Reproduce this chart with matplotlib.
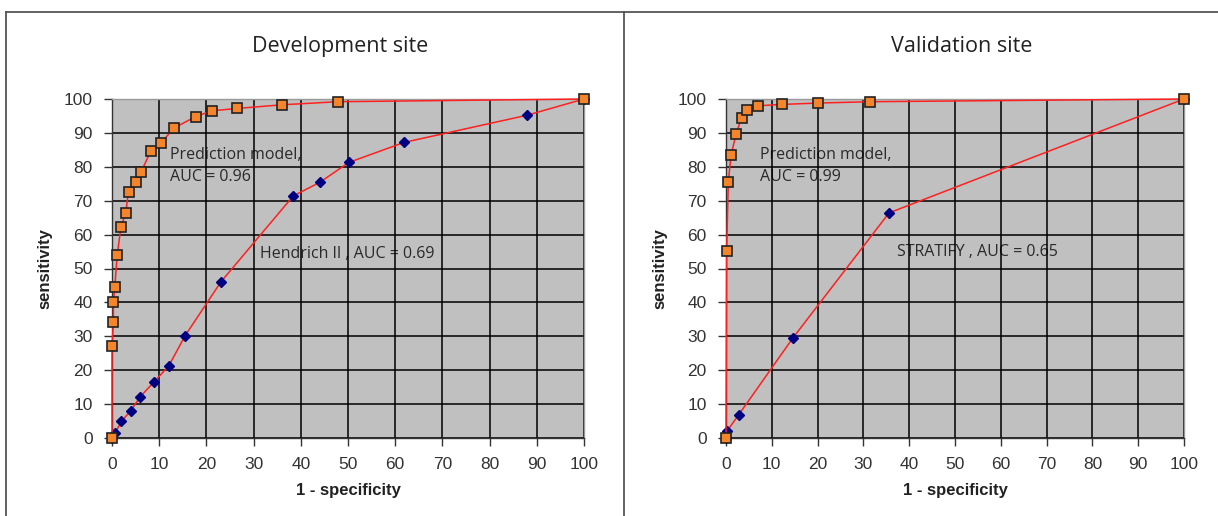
import matplotlib
matplotlib.use("Agg")
import matplotlib.pyplot as plt
from matplotlib.lines import Line2D

# ---------------- data ----------------
dev_model_x = [0, 0, 0.3, 0.3, 0.6, 1.1, 1.9, 2.9, 3.5, 5.0, 6.2, 8.2, 10.3, 13.1, 17.7, 21.1, 26.4, 36.1, 47.9, 100]
dev_model_y = [0, 27.1, 34.3, 40.2, 44.6, 54.0, 62.3, 66.4, 72.7, 75.4, 78.6, 84.6, 86.9, 91.4, 94.8, 96.5, 97.2, 98.3, 99.2, 100]
dev_hend_x = [0, 0.7, 2.0, 4.0, 6.0, 8.8, 12.0, 15.5, 23.1, 38.4, 44.0, 50.2, 61.9, 87.9, 100]
dev_hend_y = [0, 1.6, 4.9, 8.1, 12.2, 16.4, 21.2, 30.2, 46.1, 71.4, 75.4, 81.3, 87.2, 95.2, 100]

val_model_x = [0, 0.15, 0.5, 1.1, 2.2, 3.4, 4.6, 6.9, 12.2, 20.0, 31.5, 100]
val_model_y = [0, 55.3, 75.5, 83.4, 89.7, 94.5, 96.9, 98.0, 98.4, 98.8, 99.2, 100]
val_strat_x = [0, 0.3, 2.8, 14.6, 35.6, 100]
val_strat_y = [0, 2.2, 6.9, 29.5, 66.4, 100]

ticks = list(range(0, 101, 10))
titles = ["Development site", "Validation site"]
model_labels = ["Prediction model,\nAUC = 0.96", "Prediction model,\nAUC = 0.99"]
other_labels = ["Hendrich II , AUC = 0.69", "STRATIFY , AUC = 0.65"]
xlabel = "1 - specificity"
ylabel = "sensitivity"

# ---------------- figure ----------------
W, H = 1218, 516
fig = plt.figure(figsize=(W / 100, H / 100), dpi=100)
fig.patch.set_facecolor("white")

def fx(px):
    return px / W

def fy(py):
    return 1 - py / H

# panel frame lines
frame_kw = dict(color="#555555", lw=1.3, transform=fig.transFigure)
fig.add_artist(Line2D([fx(6), fx(1218)], [fy(12), fy(12)], **frame_kw))
fig.add_artist(Line2D([fx(6), fx(6)], [fy(12), fy(516)], **frame_kw))
fig.add_artist(Line2D([fx(624), fx(624)], [fy(12), fy(516)], **frame_kw))

axes_px = [(112, 584), (726, 1184)]
top_px, bot_px = 99, 438

data = [
    (dev_model_x, dev_model_y, dev_hend_x, dev_hend_y),
    (val_model_x, val_model_y, val_strat_x, val_strat_y),
]
model_text_pos = [(170, 166), (760, 166)]
other_text_pos = [(260, 254), (897, 252)]
title_pos = [340, 962]
ylabel_x = [45, 660]

tick_font = dict(family=["Liberation Sans", "DejaVu Sans"], size=12.5, color="#333333")
label_font = dict(family=["Liberation Sans", "DejaVu Sans"], size=12, weight="bold", color="#222222")
annot_font = dict(family=["Open Sans", "DejaVu Sans"], size=11.5, color="#2a2a2a")
title_font = dict(family=["Open Sans", "DejaVu Sans"], size=15.5, color="#222222")

for i, ((x0, x1), (mx, my, ox, oy)) in enumerate(zip(axes_px, data)):
    ax = fig.add_axes([fx(x0), fy(bot_px), (x1 - x0) / W, (bot_px - top_px) / H])
    ax.set_facecolor("#C0C0C0")
    ax.set_xlim(0, 100)
    ax.set_ylim(0, 100)
    ax.set_xticks(ticks)
    ax.set_yticks(ticks)
    ax.set_xticklabels([str(t) for t in ticks], fontdict=tick_font)
    ax.set_yticklabels([str(t) for t in ticks], fontdict=tick_font)
    ax.grid(True, color="black", lw=1.1, zorder=1)
    ax.set_axisbelow(True)
    for side in ["top", "right"]:
        ax.spines[side].set_color("#9a9a9a")
        ax.spines[side].set_linewidth(1.0)
    for side in ["left", "bottom"]:
        ax.spines[side].set_color("#333333")
        ax.spines[side].set_linewidth(1.0)
    ax.tick_params(axis="both", direction="out", length=6, width=1, color="#333333")
    ax.tick_params(axis="y", pad=8)
    ax.tick_params(axis="x", pad=8)

    ax.plot(ox, oy, color="#FF2020", lw=1.1, marker="D", ms=5.5,
            markerfacecolor="#000080", markeredgecolor="#000080", clip_on=False, zorder=3)
    ax.plot(mx, my, color="#FF2020", lw=1.1, marker="s", ms=7.5,
            markerfacecolor="#F5852A", markeredgecolor="#222222", markeredgewidth=1.2,
            clip_on=False, zorder=4)

    tx, ty = model_text_pos[i]
    ax.text(fx(tx), fy(ty), model_labels[i], ha="left", va="center",
            linespacing=1.45, transform=fig.transFigure, zorder=0.3, **annot_font)
    tx, ty = other_text_pos[i]
    ax.text(fx(tx), fy(ty), other_labels[i], ha="left", va="center",
            transform=fig.transFigure, zorder=0.3, **annot_font)

    fig.text(fx(title_pos[i]), fy(47), titles[i], ha="center", va="center", **title_font)
    fig.text(fx((x0 + x1) / 2), fy(491), xlabel, ha="center", va="center", **label_font)
    fig.text(fx(ylabel_x[i]), fy((top_px + bot_px) / 2), ylabel, ha="center", va="center",
             rotation=90, **label_font)

fig.savefig("out.png", dpi=100, facecolor="white")
